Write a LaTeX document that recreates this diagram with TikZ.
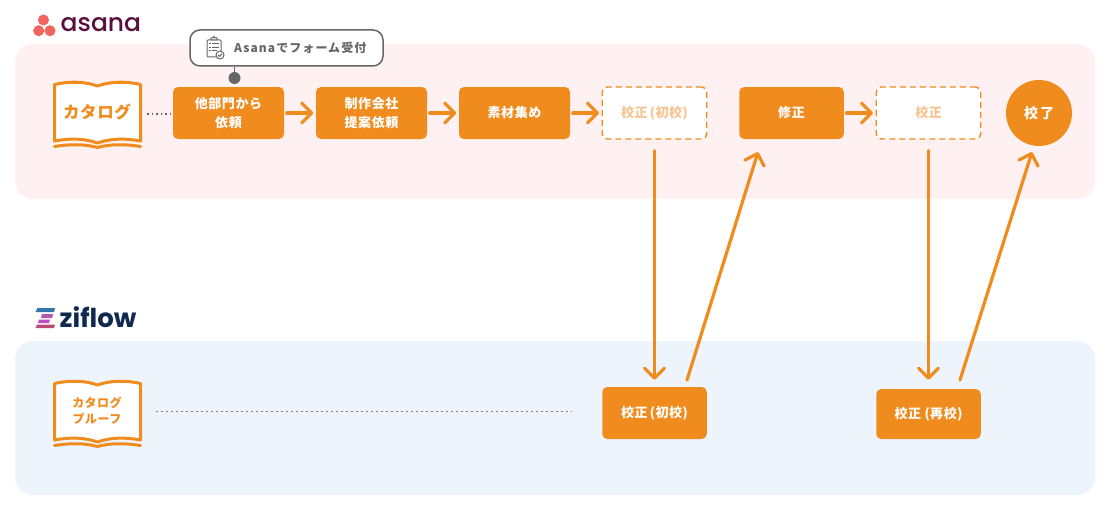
\documentclass[tikz,border=0pt]{standalone}
\usepackage{fontspec}
\usetikzlibrary{arrows.meta}
\newfontfamily\jp{Noto Sans CJK JP}[LetterSpace=4]
\newfontfamily\jpw{Noto Sans CJK JP}[LetterSpace=9]
\newfontfamily\pop{Poppins Medium}
\newfontfamily\popb{Poppins}
\definecolor{org}{HTML}{F08C1E}
\definecolor{lightorg}{HTML}{F7C490}
\definecolor{pinkbg}{HTML}{FFF1F1}
\definecolor{bluebg}{HTML}{EDF4FB}
\definecolor{graytx}{HTML}{666666}
\definecolor{asanac}{HTML}{5A0F3F}
\definecolor{zifc}{HTML}{10294F}
\definecolor{coral}{HTML}{F4645F}
\tikzset{
 x=1pt,y=-1pt,
 panel/.style={rounded corners=18pt,draw=none},
 box/.style={fill=org,text=white,rounded corners=5pt,inner sep=0pt,align=center,execute at begin node={\vspace*{2pt}},font=\jp\bfseries\fontsize{13}{19}\selectfont},
 dashbox/.style={fill=white,draw=org,line width=1.4pt,dash pattern=on 6pt off 4pt,text=lightorg,rounded corners=5pt,inner sep=0pt,align=center,execute at begin node={\vspace*{2pt}},font=\jp\bfseries\fontsize{13}{19}\selectfont},
 flow/.style={draw=org,line width=3.2pt,line cap=round,-{Straight Barb[length=10pt,width=20pt,line width=3.2pt,round]}},
 dots/.style={draw=graytx,line width=1.1pt,dash pattern=on 1.5pt off 3pt},
 fardots/.style={draw=graytx!85,line width=1pt,dash pattern=on 2pt off 3pt},
 bookline/.style={draw=org,line width=3pt},
 bookfill/.style={fill=white,draw=org,line width=3pt,line join=round},
 booktxt/.style={text=org,inner sep=0pt,align=center},
}
\newcommand{\bookshape}[1]{%
 \begin{scope}[yshift=-#1pt]
 \path[bookfill] (54.5,84.5) .. controls (70,81) and (85,81.5) .. (97.5,86) .. controls (110,81.5) and (125,81) .. (140.5,84.5) -- (140.5,141) .. controls (125,138) and (110,138.5) .. (97.5,143) .. controls (85,138.5) and (70,138) .. (54.5,141) -- cycle;
 \path[bookline,line cap=round] (54.5,146.5) .. controls (70,144) and (85,144) .. (97.5,147.5) .. controls (110,144) and (125,144) .. (140.5,146.5);
 \end{scope}}
\begin{document}
\begin{tikzpicture}
\useasboundingbox (0,0) rectangle (1111,511);
\fill[white] (0,0) rectangle (1111,511);
% panels
\path[panel,fill=pinkbg] (15,44) rectangle (1095,199);
\path[panel,fill=bluebg] (15,341) rectangle (1095,495);
% asana logo
\fill[coral] (43.5,20) circle (5.5pt) (38.7,30.7) circle (5.5pt) (50,30.7) circle (5.5pt);
\node[anchor=west,inner sep=0pt,text=asanac,font=\pop\fontsize{25}{25}\selectfont] (asanalogo) at (60.5,25) {asana};
% ziflow logo
\fill[blue!45!cyan!60!black!80] (37.5,308) -- (55,308) -- (54,312) -- (35.5,312) -- cycle;
\fill[violet!65!white] (42,314) -- (53,314) -- (52,318) -- (41,318) -- cycle;
\fill[violet!70!magenta!70] (39,319.5) -- (50,319.5) -- (49,323) -- (38,323) -- cycle;
\fill[magenta!70!red!70!black!90] (37,324.5) -- (55,324.5) -- (54,328) -- (35.5,328) -- cycle;
\node[anchor=west,inner sep=0pt,text=zifc,font=\popb\bfseries\fontsize{26}{26}\selectfont] (ziflowlogo) at (59.5,317) {ziflow};
% books
\bookshape{0}
\bookshape{299}
\node[booktxt,font=\jp\bfseries\fontsize{16.5}{20}\selectfont] (cat) at (97,112) {カタログ};
\node[booktxt,font=\jp\bfseries\fontsize{12}{16}\selectfont] (proof) at (97,411) {カタログ\\プルーフ};
% top row
\node[box,minimum width=111pt,minimum height=52pt] (a) at (228.5,113) {他部門から\\依頼};
\node[box,minimum width=111pt,minimum height=52pt] (b) at (371.5,113) {制作会社\\提案依頼};
\node[box,minimum width=111pt,minimum height=52pt] (c) at (514.5,113) {素材集め};
\node[dashbox,minimum width=104.5pt,minimum height=52pt] (d) at (654.5,113) {校正\,(初校)};
\node[box,minimum width=104.5pt,minimum height=52pt] (e) at (791.5,113) {修正};
\node[dashbox,minimum width=104.5pt,minimum height=52pt] (f) at (928.5,113) {校正};
\node[circle,fill=org,text=white,minimum size=66pt,inner sep=0pt,font=\jp\bfseries\fontsize{14}{16}\selectfont] (g) at (1039,113) {校\hspace{2pt}了};
% bottom row
\node[box,minimum width=104.5pt,minimum height=52pt] (h) at (654.5,413) {校正\,(初校)};
\node[box,minimum width=104.5pt,minimum height=50pt] (i) at (928.5,414) {校正 (再校)};
% callout
\node[draw=graytx,line width=1.5pt,fill=white,rounded corners=10pt,minimum width=193pt,minimum height=36pt,inner sep=0pt] (call) at (286.5,48) {};
\node[anchor=west,inner sep=0pt,text=graytx,font=\jpw\bfseries\fontsize{12}{13}\selectfont] (calltx) at (234,47.5) {Asanaでフォーム受付};
\fill[graytx] (234.5,78) circle (6pt);
\coordinate (pin) at (234.5,78);
\draw[graytx,line width=1.5pt] (call.south -| pin) -- (pin);
% clipboard icon
\begin{scope}[draw=graytx,line width=1pt]
\draw[rounded corners=1pt,fill=white] (207,40) rectangle (221,57);
\draw[fill=white] (211,40) -- (211,38) -- (213,38) -- (214,36.5) -- (215,38) -- (217,38) -- (217,40) -- cycle;
\draw (212,44) -- (219,44) (212,47.5) -- (219,47.5) (212,51) -- (217,51);
\draw (209,44) -- (210.5,44) (209,47.5) -- (210.5,47.5) (209,51) -- (210.5,51);
\draw[fill=white] (220,55) circle (4pt);
\draw (218.2,55) -- (219.6,56.4) -- (222,53.8);
\end{scope}
% dotted
\coordinate (d0) at (147,114);
\draw[dots] (d0) -- (a.west |- d0);
\coordinate (d1) at (156,411); \coordinate (d2) at (572,411);
\draw[fardots] (d1) -- (d2);
% flow arrows
\draw[flow,shorten <=2.5pt,shorten >=2.5pt] (a) -- (b);
\draw[flow,shorten <=2.5pt,shorten >=2.5pt] (b) -- (c);
\draw[flow,shorten <=2.5pt,shorten >=2.5pt] (c) -- (d);
\draw[flow,shorten <=2.5pt,shorten >=2.5pt] (e) -- (f);
\draw[flow,shorten <=11pt,shorten >=7pt] (d.south) -- (h.north);
\draw[flow,shorten <=11pt,shorten >=9pt] (f.south) -- (i.north);
\coordinate (u1s) at (687,380); \coordinate (u1e) at (758,152);
\coordinate (u2s) at (960,380); \coordinate (u2e) at (1032,152);
\draw[flow] (u1s) -- (u1e);
\draw[flow] (u2s) -- (u2e);
\end{tikzpicture}
\end{document}
